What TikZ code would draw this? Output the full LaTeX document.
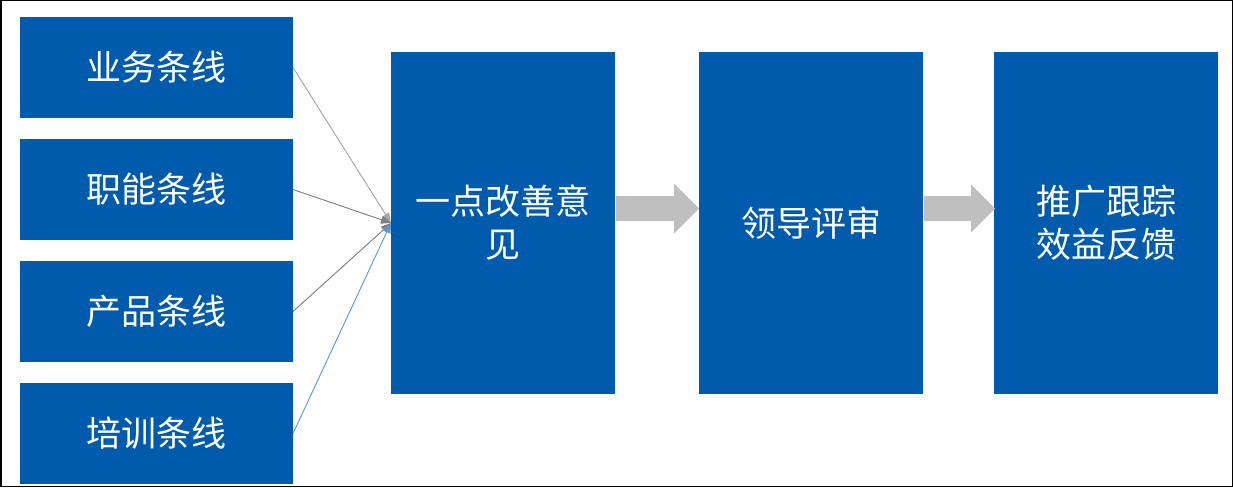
\documentclass[tikz,border=0pt]{standalone}
\usepackage{fontspec}
\setmainfont{Noto Sans CJK SC}
\usetikzlibrary{arrows.meta}
\definecolor{boxblue}{RGB}{0,91,172}
\definecolor{fatgray}{RGB}{191,191,191}
\definecolor{lgray}{RGB}{166,166,166}
\definecolor{dgray}{RGB}{127,127,127}
\definecolor{mgray}{RGB}{128,128,128}
\definecolor{lblue}{RGB}{91,155,213}
\begin{document}
\begin{tikzpicture}[x=1pt,y=-1pt,
  box/.style={fill=boxblue,text=white,inner sep=0pt,outer sep=0pt,align=center,
    font=\fontsize{35}{43}\selectfont},
  smallbox/.style={box,minimum width=273pt,minimum height=101pt},
  bigbox/.style={box,minimum width=224pt,minimum height=342pt},
  conn/.style={line width=0.9pt,-{Triangle[length=10pt,width=8pt]}},
  fat/.style={fill=fatgray}]
\useasboundingbox (0,0) rectangle (1233,487);
\fill[white] (0,0) rectangle (1233,487);
\draw[line width=1.5pt,black] (0.75,0.75) rectangle (1232.25,486.25);
\node[smallbox] (s1) at (156.5,67.5) {业务条线};
\node[smallbox] (s2) at (156.5,189.5) {职能条线};
\node[smallbox] (s3) at (156.5,311.5) {产品条线};
\node[smallbox] (s4) at (156.5,433.5) {培训条线};
\node[bigbox] (b1) at (503,223) {一点改善意\\见};
\node[bigbox] (b2) at (811,223) {领导评审};
\node[bigbox] (b3) at (1106,223) {推广跟踪\\效益反馈};
\draw[conn,draw=lgray,fill=lgray] (s1.east) -- (b1.west);
\draw[conn,draw=dgray,fill=dgray] (s2.east) -- (b1.west);
\draw[conn,draw=mgray,fill=mgray] (s3.east) -- (b1.west);
\draw[conn,draw=lblue,fill=lblue] (s4.east) -- (b1.west);
\fill[fat] (616,196) -- (674,196) -- (674,183.5) -- (699,208.5) -- (674,233.5) -- (674,221) -- (616,221) -- cycle;
\fill[fat] (924,196) -- (971,196) -- (971,184.5) -- (995,208.5) -- (971,232.5) -- (971,221) -- (924,221) -- cycle;
\end{tikzpicture}
\end{document}
